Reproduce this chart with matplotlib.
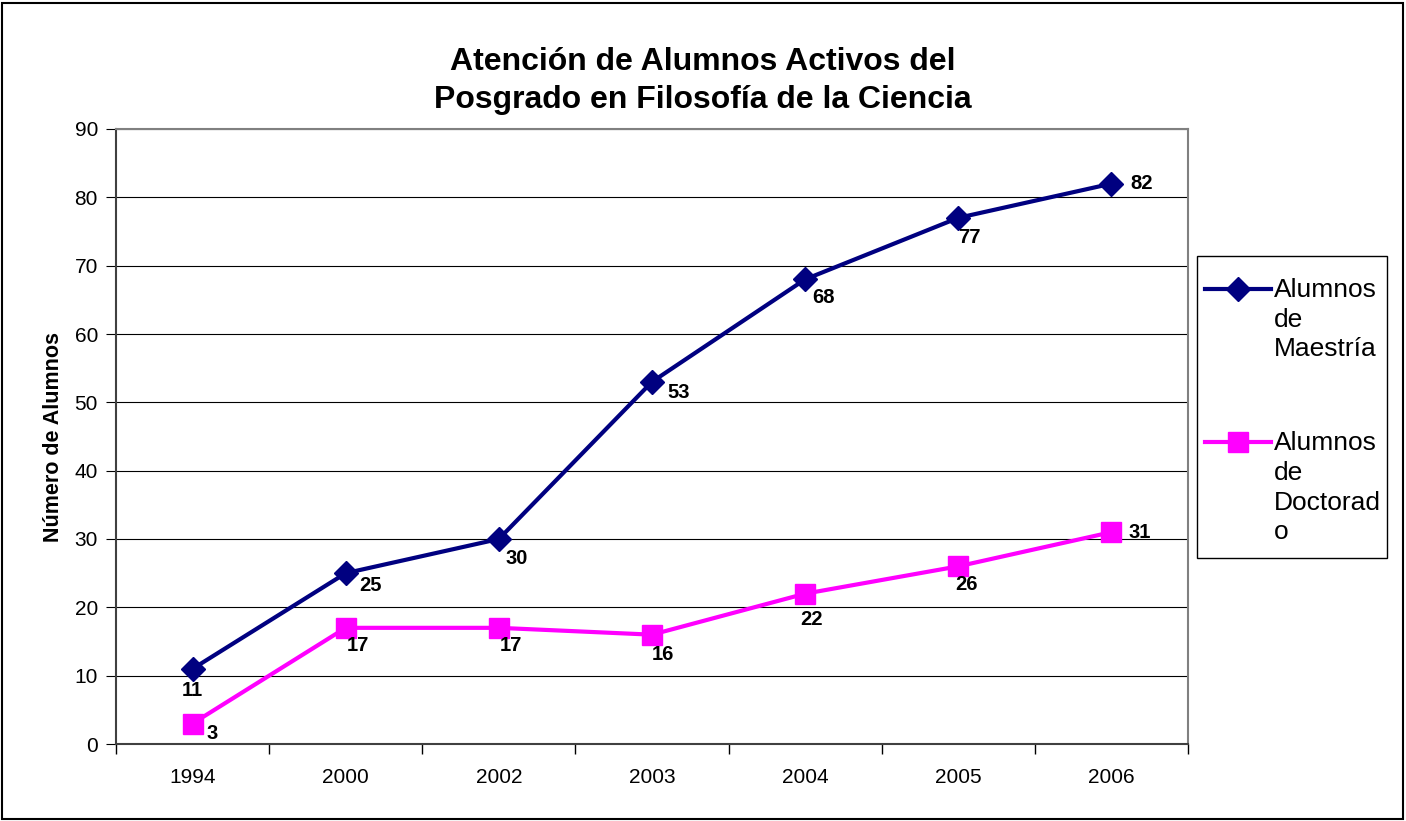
import matplotlib
matplotlib.use("Agg")
import matplotlib.pyplot as plt
import matplotlib.patches as shape
from matplotlib.legend_handler import HandlerLine2D
import numpy as np

plt.rcParams['font.family'] = ['Liberation Sans', 'DejaVu Sans']

years = ['1994', '2000', '2002', '2003', '2004', '2005', '2006']
maestria = [11, 25, 30, 53, 68, 77, 82]
doctorado = [3, 17, 17, 16, 22, 26, 31]

# label offsets in pixels (excel nudges them around)
off_m = [(0, -22), (25, -12), (18, -20), (27, -11), (18, -18), (11, -20), (30, 0)]
off_d = [(20, -10), (12, -18), (12, -18), (11, -20), (6, -26), (8, -18), (28, 0)]

fig = plt.figure(figsize=(14.06, 8.21), dpi=100)
ax = fig.add_axes([116/1406, 1 - 744/821, (1188 - 116)/1406, (744 - 129)/821])

x = np.arange(len(years))
l1, = ax.plot(x, maestria, color='#000080', lw=3, marker='D', ms=12, label='Alumnos\nde\nMaestría')
l2, = ax.plot(x, doctorado, color='#FF00FF', lw=3, marker='s', ms=14, label='Alumnos\nde\nDoctorad\no')

for xi, v, o in zip(x, maestria, off_m):
    ax.annotate(str(v), (xi, v), xytext=o, textcoords='offset pixels',
                ha='center', va='center', fontsize=14.5, fontweight='bold')
for xi, v, o in zip(x, doctorado, off_d):
    ax.annotate(str(v), (xi, v), xytext=o, textcoords='offset pixels',
                ha='center', va='center', fontsize=14.5, fontweight='bold')

ax.set_xlim(-0.5, len(years) - 0.5)
ax.set_ylim(0, 90)
ax.set_yticks(range(0, 91, 10))
ax.set_xticks(x)
ax.set_xticklabels(years)
ax.set_xticks(np.arange(-0.5, len(years), 1), minor=True)
ax.tick_params(axis='x', which='major', length=0, pad=17, labelsize=15)
ax.tick_params(axis='x', which='minor', length=7, direction='out', width=1)
ax.tick_params(axis='y', length=7, direction='out', labelsize=15, pad=6)
ax.yaxis.grid(True, color='black', lw=0.8)
ax.set_axisbelow(True)
for s in ['top', 'right']:
    ax.spines[s].set_color('#808080')
    ax.spines[s].set_linewidth(1.5)
for s in ['left', 'bottom']:
    ax.spines[s].set_color('#404040')
    ax.spines[s].set_linewidth(1.5)

ax.set_ylabel('Número de Alumnos', fontsize=15.5, fontweight='bold', labelpad=7.5)
fig.text(0.5, 1 - 81/821,
         'Atención de Alumnos Activos del\nPosgrado en Filosofía de la Ciencia',
         ha='center', va='center', fontsize=23, fontweight='bold', linespacing=1.35)


class TopLine(HandlerLine2D):
    # put the handle next to the first line of a multi-line label
    def __init__(self, shift, **kw):
        super().__init__(**kw)
        self.shift = shift

    def create_artists(self, legend, orig_handle, xdescent, ydescent,
                       width, height, fontsize, trans):
        return super().create_artists(legend, orig_handle, xdescent, ydescent - self.shift,
                                      width, height, fontsize, trans)


leg = fig.legend(handles=[l1, l2], loc='upper left',
                 bbox_to_anchor=(1197/1406, 1 - 270/821),
                 fontsize=19, frameon=False,
                 handlelength=2.5, handletextpad=0.1, labelspacing=2.65,
                 borderpad=0.3, borderaxespad=0,
                 handler_map={l1: TopLine(44), l2: TopLine(66)})
for t in leg.get_texts():
    t.set_linespacing(1.3)

# legend frame (drawn separately so the padding can be uneven like excel)
fig.patches.append(shape.Rectangle((1197/1406, 1 - 558/821), 190/1406, 302/821, fill=False,
                                   edgecolor='black', lw=1.0, transform=fig.transFigure, figure=fig))
fig.patches.append(shape.Rectangle((2/1406, 2/821), 1401/1406, 816/821, fill=False,
                                   edgecolor='black', lw=1.5, transform=fig.transFigure, figure=fig))

fig.savefig('out.png', dpi=100)
